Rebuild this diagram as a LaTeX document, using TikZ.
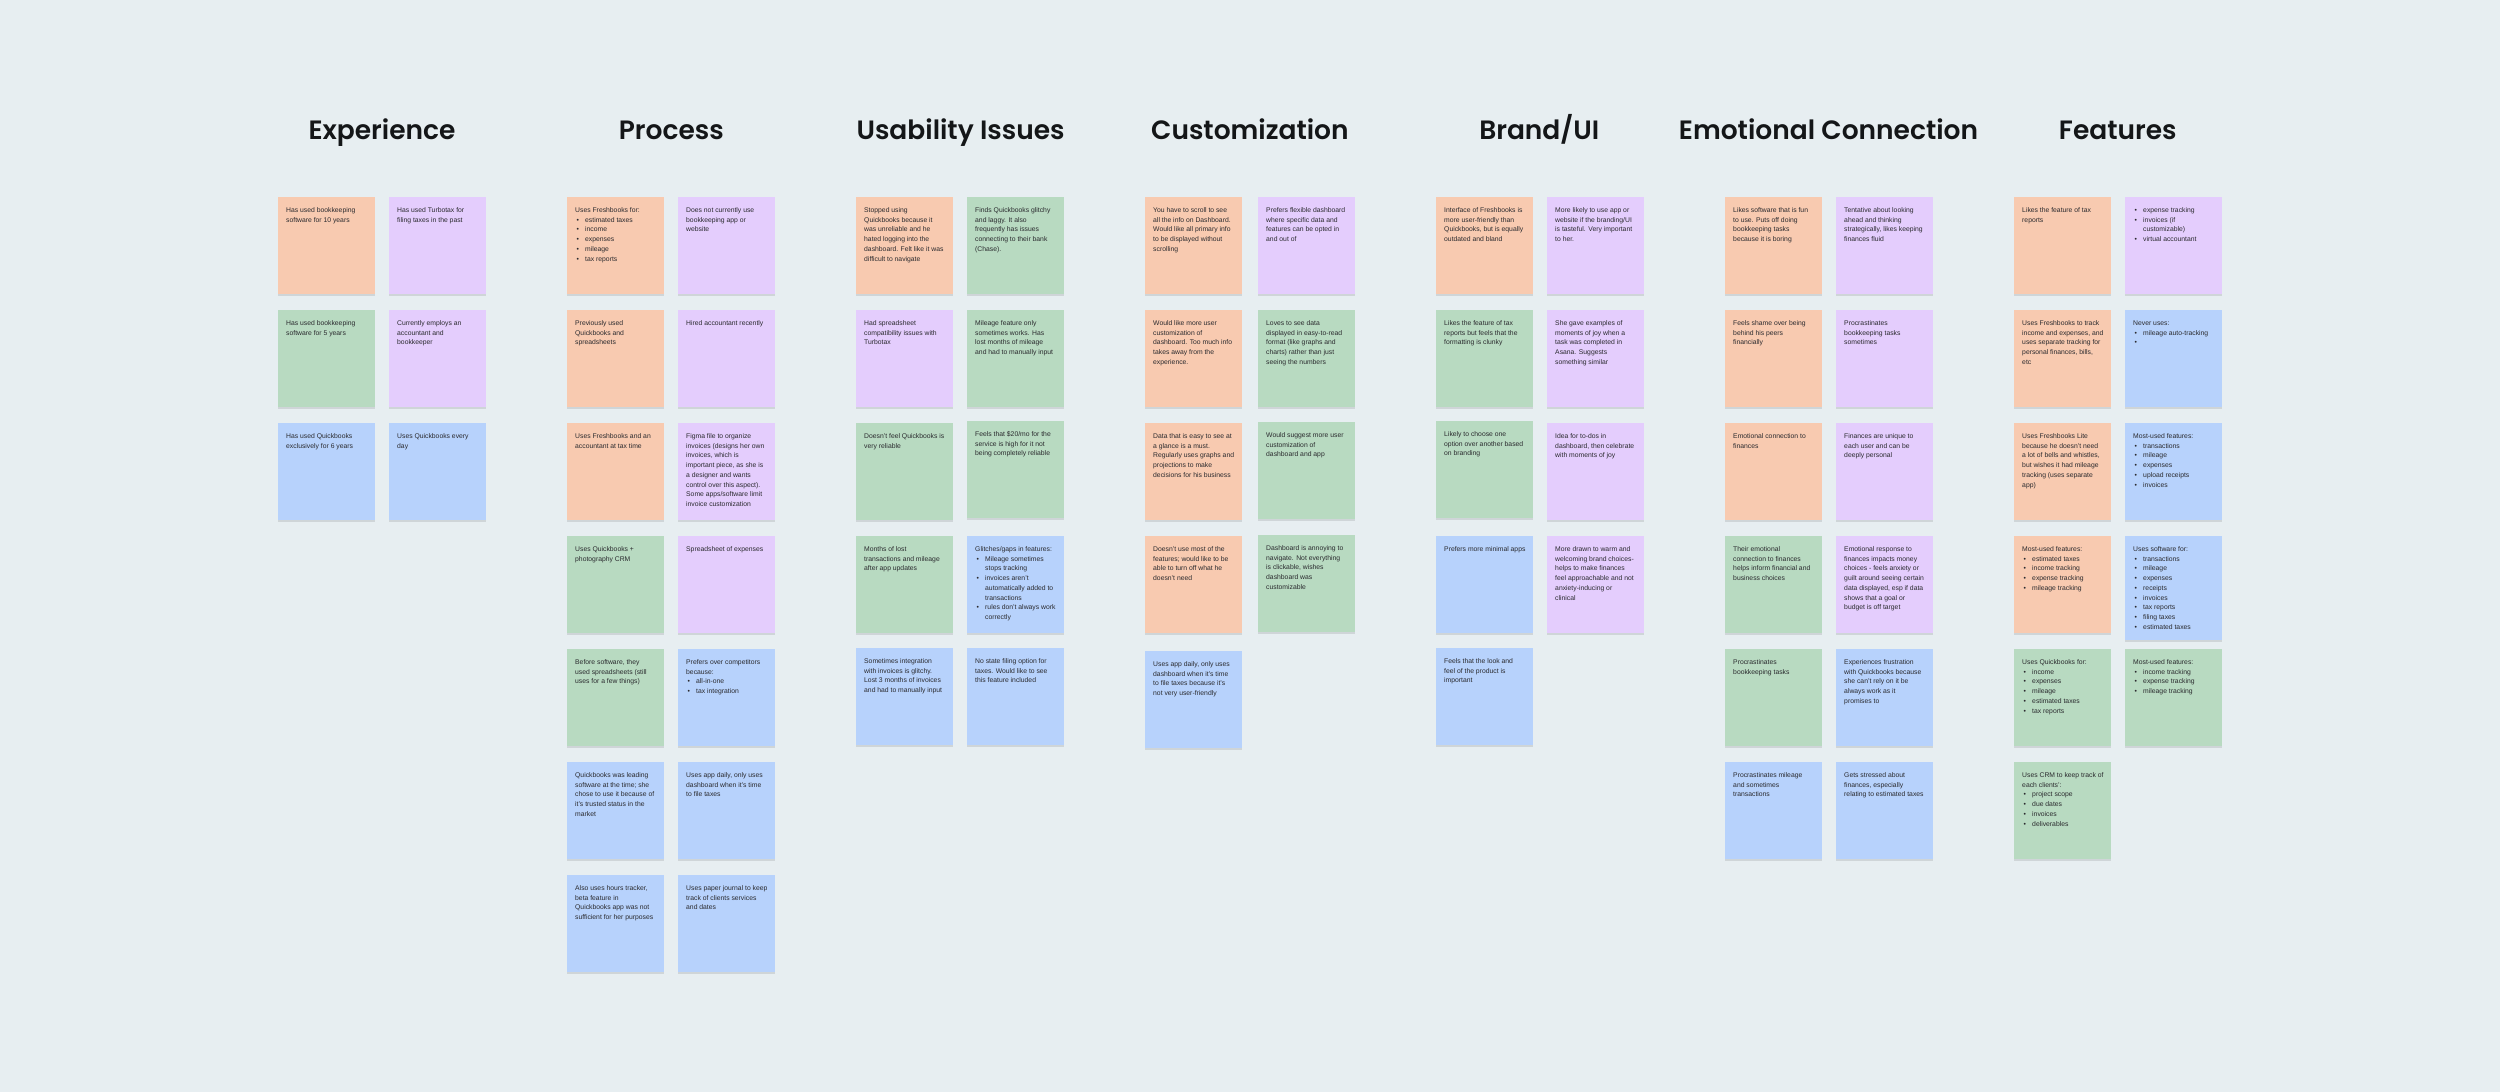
\documentclass[tikz,border=0pt]{standalone}
\usepackage{fontspec}
\setmainfont{Liberation Sans}
\newfontfamily\headfont{Poppins SemiBold}
\usepackage{tikz}
\usetikzlibrary{shadows}
\definecolor{BoardBg}{RGB}{231,238,241}
\definecolor{NotePeach}{RGB}{248,202,176}
\definecolor{NoteLilac}{RGB}{228,205,253}
\definecolor{NoteMint}{RGB}{184,218,193}
\definecolor{NoteSky}{RGB}{183,210,252}
\definecolor{NoteInk}{RGB}{42,42,46}
\definecolor{HeadInk}{RGB}{20,22,24}
\newcommand{\itm}{\hspace*{1.3pt}\makebox[8.7pt][l]{\textbullet}}
\newcommand{\itc}{\hspace*{10pt}}
\def\noteboxh{81pt}
\tikzset{
	notebox/.code={\def\noteboxh{#1}},
	note/.style={anchor=north west,inner sep=8pt,minimum width=97pt,minimum height=97pt,
		notebox=81pt,text=NoteInk,font=\fontsize{6.8}{9.7}\selectfont,
		drop shadow={shadow xshift=0pt,shadow yshift=-1.5pt,opacity=.10,fill=black},
		execute at begin node={\begin{minipage}[t][\noteboxh][t]{81pt}\raggedright
			\rightskip=-10pt plus 1fil\relax\everypar{\rule{0pt}{7.3pt}}},
		execute at end node={\end{minipage}}},
	tall/.style={minimum height=104pt,notebox=88pt},
	peach/.style={fill=NotePeach},
	lilac/.style={fill=NoteLilac},
	mint/.style={fill=NoteMint},
	sky/.style={fill=NoteSky},
	heading/.style={anchor=base,font=\headfont\fontsize{26.5}{30}\selectfont,text=HeadInk},
}

\begin{document}
\begin{tikzpicture}[x=1pt,y=-1pt]
\fill[BoardBg] (0,0) rectangle (2500,1092);
\useasboundingbox (0,0) rectangle (2500,1092);

\foreach \ttl [count=\i from 0] in {Experience,Process,Usability Issues,Customization,Brand/UI,Emotional Connection,Features}
	\node[heading] (head\i) at ({382+289.3*\i},139) {\ttl};

% Experience
\node[note,peach] (ex-a1) at (278,197) {Has used bookkeeping\\software for 10 years};
\node[note,lilac] (ex-b1) at (389,197) {Has used Turbotax for\\filing taxes in the past};
\node[note,mint] (ex-a2) at (278,310) {Has used bookkeeping\\software for 5 years};
\node[note,lilac] (ex-b2) at (389,310) {Currently employs an\\accountant and\\bookkeeper};
\node[note,sky] (ex-a3) at (278,423) {Has used Quickbooks\\exclusively for 6 years};
\node[note,sky] (ex-b3) at (389,423) {Uses Quickbooks every\\day};

% Process
\node[note,peach] (pr-a1) at (567,197) {Uses Freshbooks for:\\ \itm estimated taxes\\ \itm income\\ \itm expenses\\ \itm mileage\\ \itm tax reports};
\node[note,lilac] (pr-b1) at (678,197) {Does not currently use\\bookkeeping app or\\website};
\node[note,peach] (pr-a2) at (567,310) {Previously used\\Quickbooks and\\spreadsheets};
\node[note,lilac] (pr-b2) at (678,310) {Hired accountant recently};
\node[note,peach] (pr-a3) at (567,423) {Uses Freshbooks and an\\accountant at tax time};
\node[note,lilac] (pr-b3) at (678,423) {Figma file to organize\\invoices (designs her own\\invoices, which is\\important piece, as she is\\a designer and wants\\control over this aspect).\\Some apps/software limit\\invoice customization};
\node[note,mint] (pr-a4) at (567,536) {Uses Quickbooks +\\photography CRM};
\node[note,lilac] (pr-b4) at (678,536) {Spreadsheet of expenses};
\node[note,mint] (pr-a5) at (567,649) {Before software, they\\used spreadsheets (still\\uses for a few things)};
\node[note,sky] (pr-b5) at (678,649) {Prefers over competitors\\because:\\ \itm all-in-one\\ \itm tax integration};
\node[note,sky] (pr-a6) at (567,762) {Quickbooks was leading\\software at the time; she\\chose to use it because of\\it's trusted status in the\\market};
\node[note,sky] (pr-b6) at (678,762) {Uses app daily, only uses\\dashboard when it's time\\to file taxes};
\node[note,sky] (pr-a7) at (567,875) {Also uses hours tracker,\\beta feature in\\Quickbooks app was not\\sufficient for her purposes};
\node[note,sky] (pr-b7) at (678,875) {Uses paper journal to keep\\track of clients services\\and dates};

% Usability Issues
\node[note,peach] (us-a1) at (856,197) {Stopped using\\Quickbooks because it\\was unreliable and he\\hated logging into the\\dashboard. Felt like it was\\difficult to navigate};
\node[note,mint] (us-b1) at (967,197) {Finds Quickbooks glitchy\\and laggy. It also\\frequently has issues\\connecting to their bank\\(Chase).};
\node[note,lilac] (us-a2) at (856,310) {Had spreadsheet\\compatibility issues with\\Turbotax};
\node[note,mint] (us-b2) at (967,310) {Mileage feature only\\sometimes works. Has\\lost months of mileage\\and had to manually input};
\node[note,mint] (us-a3) at (856,423) {Doesn't feel Quickbooks is\\very reliable};
\node[note,mint] (us-b3) at (967,421) {Feels that \$20/mo for the\\service is high for it not\\being completely reliable};
\node[note,mint] (us-a4) at (856,536) {Months of lost\\transactions and mileage\\after app updates};
\node[note,sky] (us-b4) at (967,536) {Glitches/gaps in features:\\ \itm Mileage sometimes\\ \itc stops tracking\\ \itm invoices aren't\\ \itc automatically added to\\ \itc transactions\\ \itm rules don't always work\\ \itc correctly};
\node[note,sky] (us-a5) at (856,648) {Sometimes integration\\with invoices is glitchy.\\Lost 3 months of invoices\\and had to manually input};
\node[note,sky] (us-b5) at (967,648) {No state filing option for\\taxes. Would like to see\\this feature included};

% Customization
\node[note,peach] (cu-a1) at (1145,197) {You have to scroll to see\\all the info on Dashboard.\\Would like all primary info\\to be displayed without\\scrolling};
\node[note,lilac] (cu-b1) at (1258,197) {Prefers flexible dashboard\\where specific data and\\features can be opted in\\and out of};
\node[note,peach] (cu-a2) at (1145,310) {Would like more user\\customization of\\dashboard. Too much info\\takes away from the\\experience.};
\node[note,mint] (cu-b2) at (1258,310) {Loves to see data\\displayed in easy-to-read\\format (like graphs and\\charts) rather than just\\seeing the numbers};
\node[note,peach] (cu-a3) at (1145,423) {Data that is easy to see at\\a glance is a must.\\Regularly uses graphs and\\projections to make\\decisions for his business};
\node[note,mint] (cu-b3) at (1258,422) {Would suggest more user\\customization of\\dashboard and app};
\node[note,peach] (cu-a4) at (1145,536) {Doesn't use most of the\\features; would like to be\\able to turn off what he\\doesn't need};
\node[note,mint] (cu-b4) at (1258,535) {Dashboard is annoying to\\navigate. Not everything\\is clickable, wishes\\dashboard was\\customizable};
\node[note,sky] (cu-a5) at (1145,651) {Uses app daily, only uses\\dashboard when it's time\\to file taxes because it's\\not very user-friendly};

% Brand/UI
\node[note,peach] (br-a1) at (1436,197) {Interface of Freshbooks is\\more user-friendly than\\Quickbooks, but is equally\\outdated and bland};
\node[note,lilac] (br-b1) at (1547,197) {More likely to use app or\\website if the branding/UI\\is tasteful. Very important\\to her.};
\node[note,mint] (br-a2) at (1436,310) {Likes the feature of tax\\reports but feels that the\\formatting is clunky};
\node[note,lilac] (br-b2) at (1547,310) {She gave examples of\\moments of joy when a\\task was completed in\\Asana. Suggests\\something similar};
\node[note,mint] (br-a3) at (1436,421) {Likely to choose one\\option over another based\\on branding};
\node[note,lilac] (br-b3) at (1547,423) {Idea for to-dos in\\dashboard, then celebrate\\with moments of joy};
\node[note,sky] (br-a4) at (1436,536) {Prefers more minimal apps};
\node[note,lilac] (br-b4) at (1547,536) {More drawn to warm and\\welcoming brand choices-\\helps to make finances\\feel approachable and not\\anxiety-inducing or\\clinical};
\node[note,sky] (br-a5) at (1436,648) {Feels that the look and\\feel of the product is\\important};

% Emotional Connection
\node[note,peach] (em-a1) at (1725,197) {Likes software that is fun\\to use. Puts off doing\\bookkeeping tasks\\because it is boring};
\node[note,lilac] (em-b1) at (1836,197) {Tentative about looking\\ahead and thinking\\strategically, likes keeping\\finances fluid};
\node[note,peach] (em-a2) at (1725,310) {Feels shame over being\\behind his peers\\financially};
\node[note,lilac] (em-b2) at (1836,310) {Procrastinates\\bookkeeping tasks\\sometimes};
\node[note,peach] (em-a3) at (1725,423) {Emotional connection to\\finances};
\node[note,lilac] (em-b3) at (1836,423) {Finances are unique to\\each user and can be\\deeply personal};
\node[note,mint] (em-a4) at (1725,536) {Their emotional\\connection to finances\\helps inform financial and\\business choices};
\node[note,lilac] (em-b4) at (1836,536) {Emotional response to\\finances impacts money\\choices - feels anxiety or\\guilt around seeing certain\\data displayed, esp if data\\shows that a goal or\\budget is off target};
\node[note,mint] (em-a5) at (1725,649) {Procrastinates\\bookkeeping tasks};
\node[note,sky] (em-b5) at (1836,649) {Experiences frustration\\with Quickbooks because\\she can't rely on it be\\always work as it\\promises to};
\node[note,sky] (em-a6) at (1725,762) {Procrastinates mileage\\and sometimes\\transactions};
\node[note,sky] (em-b6) at (1836,762) {Gets stressed about\\finances, especially\\relating to estimated taxes};

% Features
\node[note,peach] (fe-a1) at (2014,197) {Likes the feature of tax\\reports};
\node[note,lilac] (fe-b1) at (2125,197) {\itm expense tracking\\ \itm invoices (if\\ \itc customizable)\\ \itm virtual accountant};
\node[note,peach] (fe-a2) at (2014,310) {Uses Freshbooks to track\\income and expenses, and\\uses separate tracking for\\personal finances, bills,\\etc};
\node[note,sky] (fe-b2) at (2125,310) {Never uses:\\ \itm mileage auto-tracking\\ \itm};
\node[note,peach] (fe-a3) at (2014,423) {Uses Freshbooks Lite\\because he doesn't need\\a lot of bells and whistles,\\but wishes it had mileage\\tracking (uses separate\\app)};
\node[note,sky] (fe-b3) at (2125,423) {Most-used features:\\ \itm transactions\\ \itm mileage\\ \itm expenses\\ \itm upload receipts\\ \itm invoices};
\node[note,peach] (fe-a4) at (2014,536) {Most-used features:\\ \itm estimated taxes\\ \itm income tracking\\ \itm expense tracking\\ \itm mileage tracking};
\node[note,sky,tall] (fe-b4) at (2125,536) {Uses software for:\\ \itm transactions\\ \itm mileage\\ \itm expenses\\ \itm receipts\\ \itm invoices\\ \itm tax reports\\ \itm filing taxes\\ \itm estimated taxes};
\node[note,mint] (fe-a5) at (2014,649) {Uses Quickbooks for:\\ \itm income\\ \itm expenses\\ \itm mileage\\ \itm estimated taxes\\ \itm tax reports};
\node[note,mint] (fe-b5) at (2125,649) {Most-used features:\\ \itm income tracking\\ \itm expense tracking\\ \itm mileage tracking};
\node[note,mint] (fe-a6) at (2014,762) {Uses CRM to keep track of\\each clients':\\ \itm project scope\\ \itm due dates\\ \itm invoices\\ \itm deliverables};
\end{tikzpicture}
\end{document}
